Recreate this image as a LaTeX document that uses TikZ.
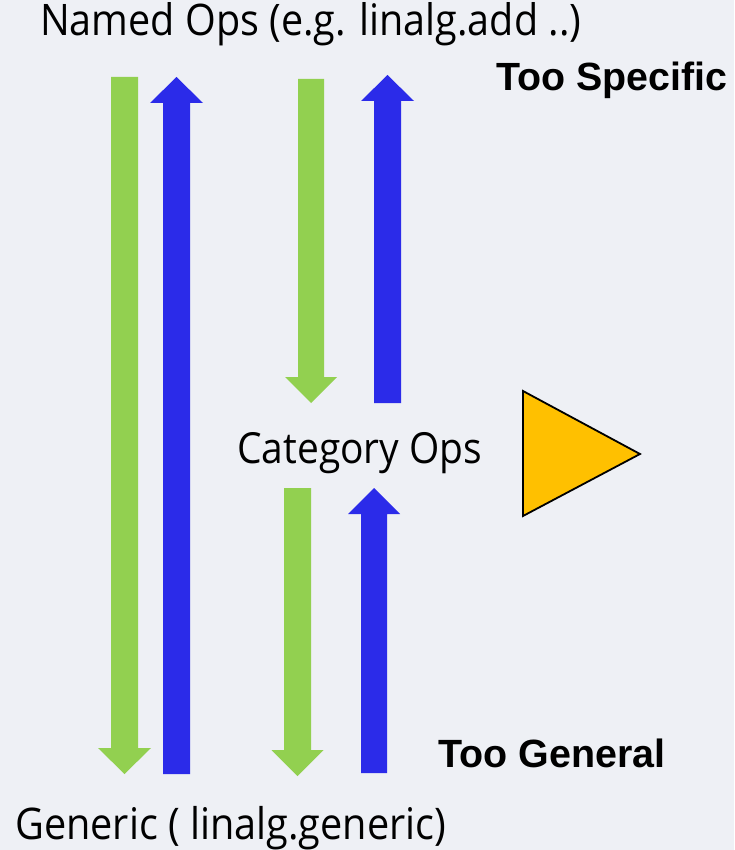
\documentclass[tikz,border=0pt]{standalone}
\usepackage{fontspec}
\setmainfont{Open Sans}
\newfontfamily\boldfam{Liberation Sans}
\definecolor{bgc}{RGB}{238,240,245}
\definecolor{grn}{RGB}{146,208,80}
\definecolor{blu}{RGB}{43,43,233}
\definecolor{amb}{RGB}{255,192,0}
\tikzset{
  grnarrow/.style={fill=grn,draw=none},
  bluarrow/.style={fill=blu,draw=none},
  lbl/.style={inner sep=0pt,anchor=base west},
}
\newcommand{\tallfit}[2]{\scalebox{1}[1.1]{\resizebox{#1}{!}{#2}}}
% down arrow: style, cx, half shaft, half head, top, wing, tip
\newcommand{\myDown}[7]{\fill[#1] (#2-#3,#5) -- (#2+#3,#5) -- (#2+#3,#6) -- (#2+#4,#6) -- (#2,#7) -- (#2-#4,#6) -- (#2-#3,#6) -- cycle;}
% up arrow: style, cx, half shaft, half head, tip, base, bottom
\newcommand{\myUp}[7]{\fill[#1] (#2,#5) -- (#2+#4,#6) -- (#2+#3,#6) -- (#2+#3,#7) -- (#2-#3,#7) -- (#2-#3,#6) -- (#2-#4,#6) -- cycle;}
\begin{document}
\begin{tikzpicture}[x=1pt,y=-1pt]
\fill[bgc] (0,0) rectangle (734,850);
\useasboundingbox (0,0) rectangle (734,850);
% arrows
\myDown{grnarrow}{124.5}{13.5}{26.5}{77}{748}{774}
\myUp{bluarrow}{176.5}{13.5}{26.5}{77}{103}{774}
\myDown{grnarrow}{311}{13}{26}{79}{377}{403}
\myUp{bluarrow}{387.5}{13.5}{26.5}{75}{101}{403}
\myDown{grnarrow}{297.5}{13.5}{26}{488}{750}{776}
\myUp{bluarrow}{374}{13}{26}{488}{514}{773}
% triangle
\draw[fill=amb,draw=black,line width=1.8pt,line join=miter] (523,391) -- (640,454) -- (523,516) -- cycle;
% labels
\node[lbl] (named) at (40,36) {\tallfit{541pt}{Named Ops (e.g. linalg.add ..)}};
\node[lbl] (spec) at (496,91) {\resizebox{231pt}{!}{\boldfam\bfseries Too Specific}};
\node[lbl] (cat) at (237,463) {\tallfit{245pt}{Category Ops}};
\node[lbl] (gen) at (438,767) {\resizebox{227pt}{!}{\boldfam\bfseries Too General}};
\node[lbl] (generic) at (15,839) {\tallfit{431pt}{Generic ( linalg.generic)}};
\end{tikzpicture}
\end{document}
